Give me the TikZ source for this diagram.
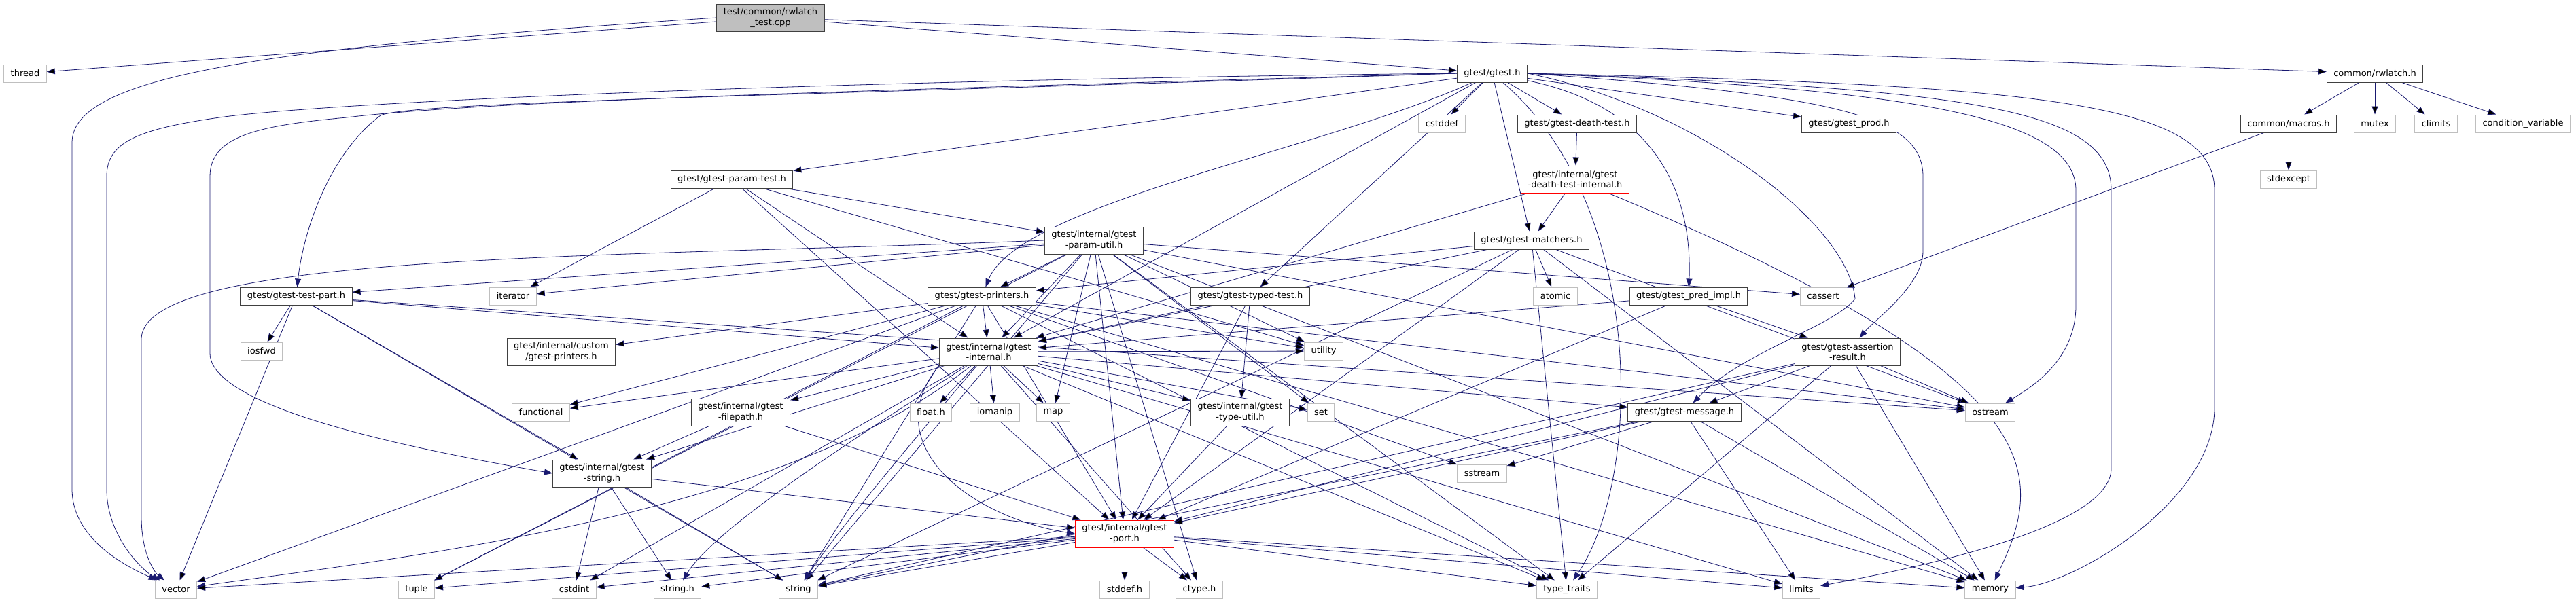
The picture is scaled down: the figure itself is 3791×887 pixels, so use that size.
\documentclass[tikz,border=0pt]{standalone}
\usepackage{fontspec}
\setmainfont{DejaVu Sans}
\usepackage{tikz}
\usetikzlibrary{arrows.meta, backgrounds}
\definecolor{edgeblue}{RGB}{25,25,112}
\definecolor{boxdark}{RGB}{64,64,64}
\definecolor{boxlight}{RGB}{191,191,191}
\definecolor{rootfill}{RGB}{191,191,191}
\definecolor{truncred}{RGB}{255,0,0}
\tikzset{
  hdr/.style={rectangle, draw=boxdark, fill=white, line width=1pt,
    font=\fontsize{13}{15.5}\selectfont, inner xsep=10pt, inner ysep=3pt,
    minimum height=26pt, align=center},
  sysbox/.style={hdr, draw=boxlight},
  rootbox/.style={hdr, fill=rootfill},
  redbox/.style={hdr, draw=truncred},
  twoline/.style={minimum height=40pt},
  dep/.style={draw=edgeblue, line width=0.8pt, -{Triangle[length=12pt,width=9pt]}}
}

\begin{document}
\begin{tikzpicture}[x=1pt, y=-1pt]
  \useasboundingbox (0,0) rectangle (3791,887);

  % Root file and its direct includes
  \node[rootbox, twoline] (rwtest) at (1134,26) {test/common/rwlatch\\\_test.cpp};
  \node[sysbox] (thread) at (37,108) {thread};
  \node[hdr] (gtest) at (2196,108) {gtest/gtest.h};
  \node[hdr] (rwlatch) at (3495,108) {common/rwlatch.h};

  % Row below gtest.h
  \node[sysbox] (cstddef) at (2122,182) {cstddef};
  \node[hdr] (deathtest) at (2321,182) {gtest/gtest-death-test.h};
  \node[hdr] (prod) at (2721,182) {gtest/gtest\_prod.h};
  \node[hdr] (macros) at (3368,182) {common/macros.h};
  \node[sysbox] (mutex) at (3495,182) {mutex};
  \node[sysbox] (climits) at (3585,182) {climits};
  \node[sysbox] (condvar) at (3713,182) {condition\_variable};

  \node[hdr] (paramtest) at (1077,264) {gtest/gtest-param-test.h};
  \node[redbox, twoline] (deathint) at (2318,264) {gtest/internal/gtest\\-death-test-internal.h};
  \node[sysbox] (stdexcept) at (3368,264) {stdexcept};

  \node[hdr, twoline] (paramutil) at (1610,354) {gtest/internal/gtest\\-param-util.h};
  \node[hdr] (matchers) at (2254,354) {gtest/gtest-matchers.h};

  \node[hdr] (testpart) at (436,436) {gtest/gtest-test-part.h};
  \node[sysbox] (iterator) at (755,436) {iterator};
  \node[hdr] (printers) at (1445,436) {gtest/gtest-printers.h};
  \node[hdr] (typed) at (1840,436) {gtest/gtest-typed-test.h};
  \node[sysbox] (atomic) at (2289,436) {atomic};
  \node[hdr] (predimpl) at (2485,436) {gtest/gtest\_pred\_impl.h};
  \node[sysbox] (cassert) at (2683,436) {cassert};

  \node[sysbox] (iosfwd) at (385,517) {iosfwd};
  \node[hdr, twoline] (custom) at (826,518) {gtest/internal/custom\\/gtest-printers.h};
  \node[hdr, twoline] (internal) at (1455,518) {gtest/internal/gtest\\-internal.h};
  \node[sysbox] (utility) at (1948,517) {utility};
  \node[hdr, twoline] (assertion) at (2719,518) {gtest/gtest-assertion\\-result.h};

  \node[sysbox] (functional) at (796,607) {functional};
  \node[hdr, twoline] (filepath) at (1090,607) {gtest/internal/gtest\\-filepath.h};
  \node[sysbox] (floath) at (1370,607) {float.h};
  \node[sysbox] (iomanip) at (1464,607) {iomanip};
  \node[sysbox] (map) at (1550,607) {map};
  \node[hdr, twoline] (typeutil) at (1825,607) {gtest/internal/gtest\\-type-util.h};
  \node[sysbox] (set) at (1944,607) {set};
  \node[hdr] (message) at (2479,607) {gtest/gtest-message.h};
  \node[sysbox] (ostream) at (2929,607) {ostream};

  \node[hdr, twoline] (gstring) at (886,697) {gtest/internal/gtest\\-string.h};
  \node[sysbox] (sstream) at (2181,697) {sstream};

  \node[redbox, twoline] (port) at (1655,786) {gtest/internal/gtest\\-port.h};

  % Bottom row of system headers
  \node[sysbox] (vector) at (259,868) {vector};
  \node[sysbox] (tuple) at (613,868) {tuple};
  \node[sysbox] (cstdint) at (845,868) {cstdint};
  \node[sysbox] (stringh) at (997,868) {string.h};
  \node[sysbox] (string) at (1175,868) {string};
  \node[sysbox] (stddefh) at (1655,868) {stddef.h};
  \node[sysbox] (ctypeh) at (1765,868) {ctype.h};
  \node[sysbox] (typetraits) at (2306,868) {type\_traits};
  \node[sysbox] (limits) at (2651,868) {limits};
  \node[sysbox] (memory) at (2929,868) {memory};

  \begin{scope}[on background layer]
    % Root file
    \draw[dep] (rwtest) edge (thread) edge (gtest) edge (rwlatch);
    \draw[dep] (rwtest.west) .. controls (400,70) and (106,110) .. (106,210)
      -- (106,720) .. controls (106,800) and (200,840) .. (vector);

    % common/
    \draw[dep] (rwlatch) edge (macros) edge (mutex) edge (climits) edge (condvar);
    \draw[dep] (macros) edge (cassert) edge (stdexcept);

    % gtest/gtest.h
    \draw[dep] (gtest) edge (cstddef) edge (deathtest) edge (prod)
      edge (paramtest) edge (typed) edge (matchers) edge (internal);
    \draw[dep] (gtest) .. controls (1950,220) and (1500,300) .. (printers);
    \draw[dep] (gtest) .. controls (2450,160) and (2490,300) .. (predimpl);
    \draw[dep] (gtest) .. controls (2420,300) and (2420,700) .. (typetraits);
    \draw[dep] (gtest.west) .. controls (1200,140) and (600,150) .. (560,170)
      .. controls (480,230) and (445,350) .. (testpart);
    \draw[dep] (gtest.west) .. controls (1200,118) and (500,150) .. (330,172)
      .. controls (200,190) and (157,210) .. (157,260) -- (157,720)
      .. controls (157,790) and (210,840) .. (vector);
    \draw[dep] (gtest.west) .. controls (1200,135) and (700,150) .. (510,173)
      .. controls (380,185) and (309,200) .. (309,260) -- (309,520)
      .. controls (309,600) and (600,660) .. (gstring.west);
    \draw[dep] (gtest.east) .. controls (2700,140) and (2830,170) .. (2830,260)
      -- (2830,370) .. controls (2830,420) and (2760,470) .. (assertion);
    \draw[dep] (gtest.east) .. controls (2500,160) and (2720,330) .. (2730,440)
      .. controls (2700,480) and (2560,520) .. (message);
    \draw[dep] (gtest.east) .. controls (2800,130) and (3055,170) .. (3055,280)
      -- (3055,450) .. controls (3055,530) and (2990,570) .. (ostream);
    \draw[dep] (gtest.east) .. controls (2900,130) and (3107,160) .. (3107,280)
      -- (3107,690) .. controls (3107,780) and (2800,840) .. (limits);
    \draw[dep] (gtest.east) .. controls (3000,125) and (3259,150) .. (3259,280)
      -- (3259,600) .. controls (3259,740) and (3050,860) .. (memory);

    % death tests
    \draw[dep] (deathtest) edge (deathint);
    \draw[dep] (deathint) edge (matchers) edge (internal);
    \draw[dep] (deathint) .. controls (3030,560) and (3010,700) .. (memory);

    % parameterized tests
    \draw[dep] (paramtest) edge (iterator) edge (utility) edge (internal)
      edge (paramutil) edge (port);
    \draw[dep] (paramutil) edge (ctypeh) edge (cassert) edge (iterator) edge (map)
      edge (memory) edge (ostream) edge (set) edge (string) edge (tuple)
      edge (typetraits) edge (utility) edge (printers)
      edge (testpart) edge (internal) edge (port);
    \draw[dep] (paramutil.west) .. controls (900,380) and (208,370) .. (208,500)
      -- (208,760) .. controls (208,820) and (230,845) .. (vector);

    % matchers, test parts, printers
    \draw[dep] (matchers) edge (atomic) edge (memory) edge (ostream) edge (string)
      edge (typetraits) edge (printers) edge (internal) edge (port);
    \draw[dep] (testpart) edge (iosfwd) edge (ostream) edge (string) edge (vector)
      edge (internal) edge (gstring);
    \draw[dep] (printers) edge (functional) edge (memory) edge (ostream)
      edge (sstream) edge (string) edge (tuple) edge (typetraits) edge (utility)
      edge (vector) edge (internal) edge (port) edge (custom);

    % typed tests, predicates, assertion results
    \draw[dep] (typed) edge (internal) edge (port) edge (typeutil);
    \draw[dep] (predimpl) edge (assertion) edge (internal) edge (port);
    \draw[dep] (assertion) edge (memory) edge (ostream) edge (string)
      edge (typetraits) edge (message) edge (port);

    % gtest-internal.h
    \draw[dep] (internal) edge (ctypeh) edge (floath) edge (cstdint)
      edge (functional) edge (iomanip) edge (limits) edge (map)
      edge (set) edge (typetraits) edge (utility)
      edge (message) edge (filepath) edge (gstring) edge (typeutil);
    \draw[dep] (internal.south west) .. controls (1290,650) and (1420,760) .. (port.west);
    \draw[dep] (internal) .. controls (1300,700) and (1220,800) .. (string);
    \draw[dep] (internal) .. controls (1250,650) and (1050,780) .. (stringh);
    \draw[dep] (internal) .. controls (1150,760) and (600,820) .. (vector);

    % lower level headers
    \draw[dep] (message) edge (limits) edge (memory) edge (sstream) edge (string)
      edge (port);
    \draw[dep] (filepath) edge (port) edge (gstring);
    \draw[dep] (gstring) edge (stringh) edge (cstdint) edge (string) edge (port);
    \draw[dep] (typeutil) edge (port);
    \draw[dep] (port) edge (ctypeh) edge (stddefh) edge (stringh) edge (cstdint)
      edge (limits) edge (memory) edge (string) edge (tuple) edge (typetraits)
      edge (vector);
  \end{scope}
\end{tikzpicture}
\end{document}
